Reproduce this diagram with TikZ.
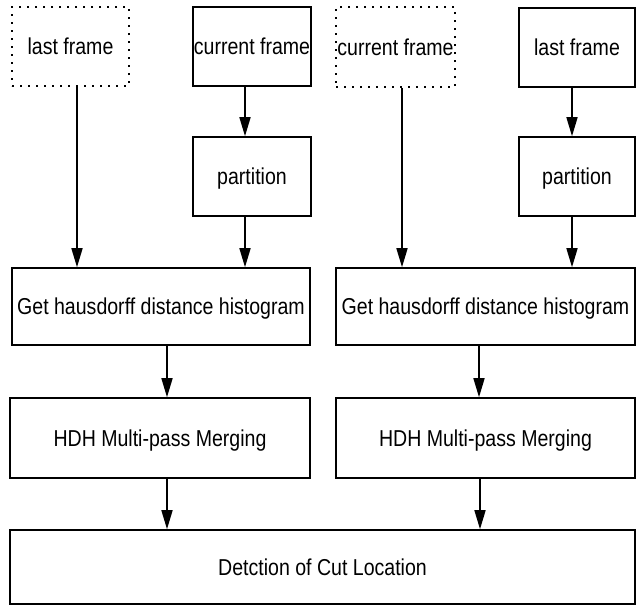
\documentclass[tikz,border=0pt]{standalone}
\usepackage{fontspec}
\setmainfont{Liberation Sans}
\newfontfamily\narrowsans[FakeStretch=0.85]{Liberation Sans}
\usetikzlibrary{arrows.meta}
\begin{document}
\begin{tikzpicture}[x=1pt,y=-1pt,
  box/.style={draw=black, line width=1.6pt, rectangle, inner sep=0pt, align=center,
    text depth=0pt, font=\narrowsans\fontsize{23}{26}\selectfont},
  dotbox/.style={box, dash pattern=on 2pt off 6pt},
  arr/.style={line width=1.6pt, -{Triangle[length=19pt,width=11pt]}}]
\useasboundingbox (0,0) rectangle (636,606);
% left column
\node[dotbox, minimum width=117pt, minimum height=79pt] (lf1) at (70.5,46.5) {last frame};
\node[box, minimum width=118pt, minimum height=79pt] (cf1) at (252,46.5) {current frame};
\node[box, minimum width=118pt, minimum height=79pt] (p1) at (252,176.5) {partition};
\node[box, minimum width=298pt, minimum height=77pt] (h1) at (161,306.5) {Get hausdorff distance histogram};
\node[box, minimum width=300pt, minimum height=80pt] (m1) at (160,438) {HDH Multi-pass Merging};
% right column
\node[dotbox, minimum width=119pt, minimum height=80pt] (cf2) at (395.5,47) {current frame};
\node[box, minimum width=116pt, minimum height=79pt] (lf2) at (577,47.5) {last frame};
\node[box, minimum width=116pt, minimum height=79pt] (p2) at (577,176.5) {partition};
\node[box, minimum width=299pt, minimum height=77pt] (h2) at (485.5,306.5) {Get hausdorff distance histogram};
\node[box, minimum width=299pt, minimum height=80pt] (m2) at (485.5,438) {HDH Multi-pass Merging};
% bottom
\node[box, minimum width=625pt, minimum height=74pt] (d) at (322.5,567) {Detction of Cut Location};
% arrows
\draw[arr] ([xshift=6.5pt]lf1.south) -- ([xshift=6.5pt]lf1.south |- h1.north);
\draw[arr] ([xshift=-7pt]cf1.south) -- ([xshift=-7pt]cf1.south |- p1.north);
\draw[arr] ([xshift=-7pt]p1.south) -- ([xshift=-7pt]p1.south |- h1.north);
\draw[arr] ([xshift=6pt]h1.south) -- ([xshift=6pt]h1.south |- m1.north);
\draw[arr] ([xshift=7pt]m1.south) -- ([xshift=7pt]m1.south |- d.north);
\draw[arr] ([xshift=6.5pt]cf2.south) -- ([xshift=6.5pt]cf2.south |- h2.north);
\draw[arr] ([xshift=-5pt]lf2.south) -- ([xshift=-5pt]lf2.south |- p2.north);
\draw[arr] ([xshift=-5pt]p2.south) -- ([xshift=-5pt]p2.south |- h2.north);
\draw[arr] ([xshift=-6.5pt]h2.south) -- ([xshift=-6.5pt]h2.south |- m2.north);
\draw[arr] ([xshift=-5.5pt]m2.south) -- ([xshift=-5.5pt]m2.south |- d.north);
\end{tikzpicture}
\end{document}
